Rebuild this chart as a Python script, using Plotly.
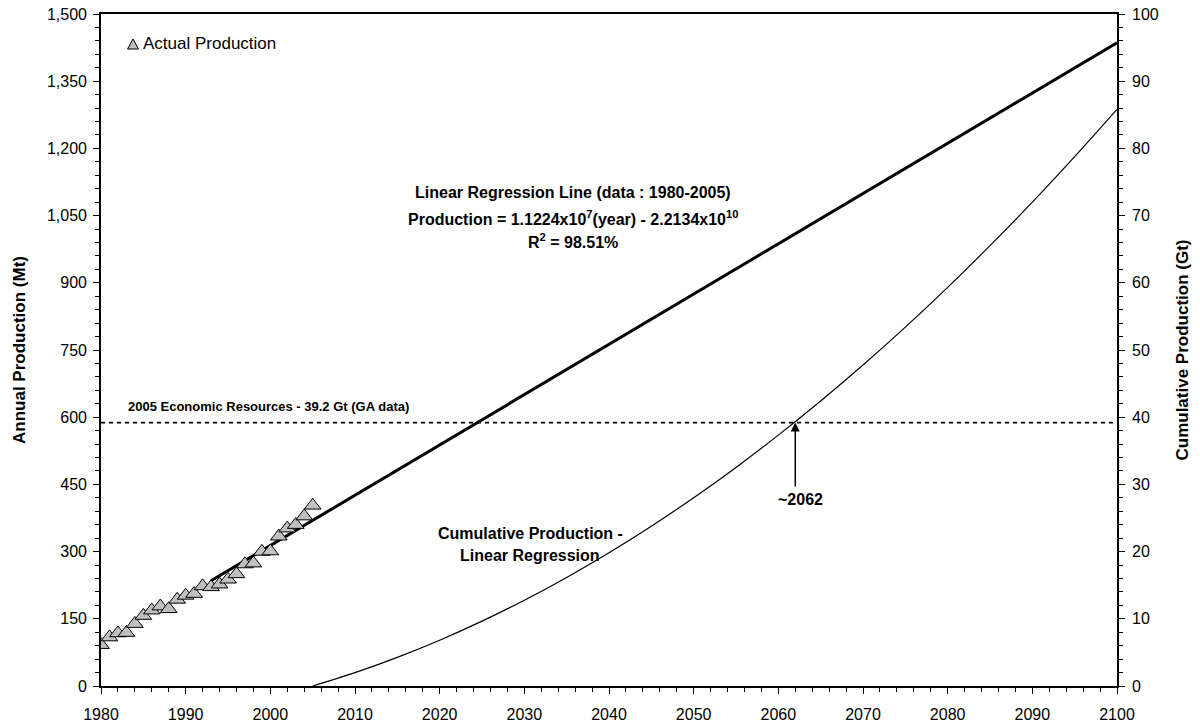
import plotly.graph_objects as go

# Actual production (Mt)
years = list(range(1980, 2006))
production = [92, 109, 118, 119, 139, 157, 169, 178, 172, 193, 202, 206, 223, 221,
              227, 238, 250, 272, 274, 300, 301, 334, 352, 360, 379, 403]

# Linear regression line end points (Mt)
reg_years = [1993, 2100]
reg_values = [235, 1436]

# Cumulative production from linear regression (Gt)
cum_years = [2005, 2010, 2015, 2020, 2025, 2030, 2035, 2040, 2045, 2050, 2055,
             2060, 2065, 2070, 2075, 2080, 2085, 2090, 2095, 2100]
cum_values = [0, 1.99, 4.26, 6.81, 9.65, 12.76, 16.16, 19.83, 23.78, 28.01, 32.53,
              37.33, 42.41, 47.76, 53.40, 59.32, 65.53, 72.0, 78.77, 85.8]

# Economic resources (Gt) shown on the annual axis (Mt scale = Gt * 15)
resource_gt = 39.2
resource_x = [1980, 2100]
cross_year = 2062

FONT = "Liberation Sans, Arial, sans-serif"

fig = go.Figure()

fig.add_trace(go.Scatter(
    x=resource_x, y=[resource_gt * 15] * 2, mode="lines",
    line=dict(color="black", width=1.6, dash="4px,4px"), showlegend=False, hoverinfo="skip"))

fig.add_trace(go.Scatter(
    x=reg_years, y=reg_values, mode="lines",
    line=dict(color="black", width=3), showlegend=False))

fig.add_trace(go.Scatter(
    x=cum_years, y=cum_values, mode="lines", yaxis="y2",
    line=dict(color="black", width=1.2, shape="spline"), showlegend=False))

fig.add_trace(go.Scatter(
    x=years, y=production, mode="markers", name="Actual Production", showlegend=False,
    marker=dict(symbol="triangle-up", size=14.5, color="#c0c0c0",
                line=dict(color="black", width=1))))

tickfont = dict(family=FONT, size=16, color="black")
titlefont = dict(family=FONT, size=17, color="black", weight="bold")

fig.update_layout(
    width=1200, height=726,
    margin=dict(l=101, r=83, t=14, b=40),
    paper_bgcolor="white", plot_bgcolor="white",
    font=dict(family=FONT, color="black"),
    xaxis=dict(range=[1980, 2100], dtick=10, tick0=1980, showgrid=False, zeroline=False,
               showline=True, linecolor="black", linewidth=1.6, mirror=True, automargin=False,
               ticks="outside", ticklen=6, tickcolor="black", tickfont=tickfont,
               ticklabelstandoff=7,
               minor=dict(dtick=2, ticks="outside", ticklen=4, tickcolor="black")),
    yaxis=dict(range=[0, 1500], dtick=150, tick0=0, tickformat=",d", showgrid=False,
               zeroline=False, showline=True, linecolor="black", linewidth=1.6, automargin=False,
               ticks="outside", ticklen=6, tickcolor="black", tickfont=tickfont,
               ticklabelstandoff=3,
               minor=dict(dtick=30, ticks="outside", ticklen=4, tickcolor="black"),
               title=dict(text="Annual Production (Mt)", font=titlefont, standoff=17)),
    yaxis2=dict(range=[0, 100], dtick=10, tick0=0, overlaying="y", side="right",
                showgrid=False, zeroline=False, showline=True, linecolor="black", linewidth=1.6,
                automargin=False, ticklabelstandoff=4,
                ticks="outside", ticklen=6, tickcolor="black", tickfont=tickfont,
                minor=dict(dtick=2, ticks="outside", ticklen=4, tickcolor="black"),
                title=dict(text="Cumulative Production (Gt)", font=titlefont, standoff=18)),
    showlegend=False,
)

# Legend key (triangle symbol + label)
fig.add_shape(type="path", xref="paper", yref="paper",
              path="M 0.0261 0.9479 L 0.0369 0.9479 L 0.0315 0.9628 Z",
              fillcolor="#c0c0c0", line=dict(color="black", width=1))
fig.add_annotation(x=0.039, y=0.9554, xref="paper", yref="paper", xanchor="left",
                   yanchor="middle", showarrow=False, text="Actual Production",
                   font=dict(family=FONT, size=17, color="black"))

bold13 = dict(family=FONT, size=13, color="black", weight="bold")
bold16 = dict(family=FONT, size=16, color="black", weight="bold")

fig.add_annotation(x=1982.9, y=625, xref="x", yref="y", xanchor="left",
                   showarrow=False,
                   text="2005 Economic Resources - 39.2 Gt (GA data)", font=bold13)

fig.add_annotation(x=2035.7, y=1102, xref="x", yref="y", showarrow=False,
                   text="Linear Regression Line (data : 1980-2005)", font=bold16)
fig.add_annotation(x=2035.7, y=1045, xref="x", yref="y", showarrow=False,
                   text="Production = 1.1224x10<sup>7</sup>(year) - 2.2134x10<sup>10</sup>",
                   font=bold16)
fig.add_annotation(x=2035.7, y=993, xref="x", yref="y", showarrow=False,
                   text="R<sup>2</sup> = 98.51%", font=bold16)

fig.add_annotation(x=2030.7, y=341, xref="x", yref="y", showarrow=False,
                   text="Cumulative Production -", font=bold16)
fig.add_annotation(x=2030.7, y=292, xref="x", yref="y", showarrow=False,
                   text="Linear Regression", font=bold16)

fig.add_annotation(x=cross_year, y=resource_gt * 15, xref="x", yref="y",
                   ax=cross_year, ay=442, axref="x", ayref="y", showarrow=True,
                   arrowhead=2, arrowsize=1.2, arrowwidth=1.5, arrowcolor="black", text="")

fig.add_annotation(x=cross_year + 0.6, y=417, xref="x", yref="y", showarrow=False,
                   text="~2062", font=bold16)

fig.write_html("out.html")
